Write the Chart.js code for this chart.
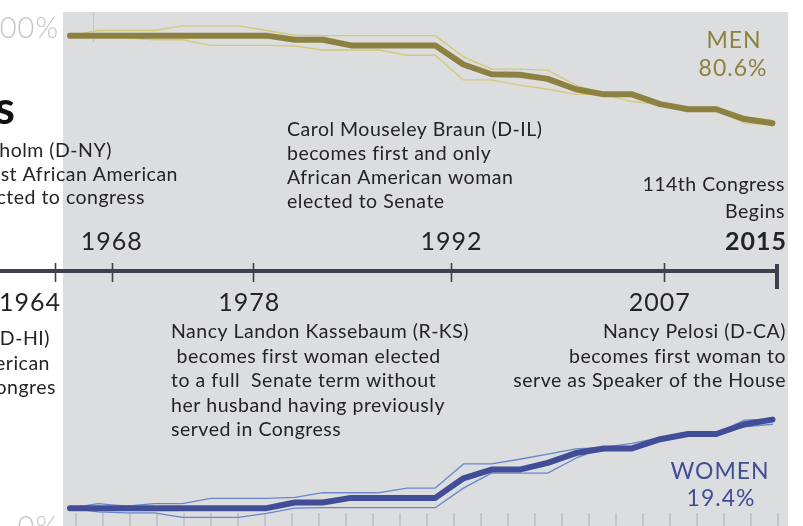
<!DOCTYPE html>
<html>
<head>
<meta charset="utf-8">
<script src="https://cdn.jsdelivr.net/npm/chart.js@4"></script>
<style>
  html, body { margin: 0; padding: 0; background: #fff; }
  #wrap { width: 803px; height: 526px; }
</style>
</head>
<body>
<div id="wrap"><canvas id="myChart"></canvas></div>
<script>
// one point per Congress (89th .. 114th)
const congressYears = [1965, 1967, 1969, 1971, 1973, 1975, 1977, 1979, 1981, 1983, 1985, 1987, 1989,
                       1991, 1993, 1995, 1997, 1999, 2001, 2003, 2005, 2007, 2009, 2011, 2013, 2015]

const menAll    = [97.6, 97.6, 97.6, 97.6, 97.6, 97.6, 97.6, 97.6, 96.8, 96.8, 95.7, 95.7, 95.7,
                   95.7, 92.0, 90.1, 90.0, 89.2, 87.2, 86.2, 86.2, 84.3, 83.3, 83.3, 81.4, 80.6]
const menSenate = [97.6, 98.6, 98.6, 98.6, 99.5, 99.5, 99.5, 98.6, 97.7, 97.6, 97.6, 97.6, 97.6,
                   97.6, 93.5, 91.1, 91.1, 90.9, 88.0, 86.4, 86.0, 84.2, 83.2, 83.2, 81.8, 81.2]
const menHouse  = [97.6, 97.4, 97.2, 96.8, 96.8, 95.7, 95.7, 95.7, 95.6, 94.8, 94.8, 94.8, 93.8,
                   93.8, 89.0, 89.0, 88.0, 87.2, 86.2, 86.2, 84.8, 84.2, 83.3, 83.3, 80.6, 80.4]

const womenAll    = [2.2, 2.2, 2.2, 2.2, 2.2, 2.2, 2.2, 2.2, 3.3, 3.3, 4.2, 4.2, 4.2,
                     4.2, 8.0, 9.7, 9.7, 11.0, 12.9, 13.8, 13.8, 15.6, 16.6, 16.6, 18.5, 19.4]
const womenHouse  = [2.2, 3.1, 2.6, 3.1, 3.1, 4.1, 4.1, 4.1, 4.3, 5.2, 5.2, 5.2, 6.1,
                     6.1, 10.8, 10.8, 11.7, 12.7, 13.7, 14.0, 14.8, 15.9, 16.7, 16.7, 19.3, 19.5]
const womenSenate = [2.2, 1.5, 1.3, 1.3, 0.4, 0.4, 0.4, 1.2, 2.2, 2.3, 2.3, 2.3, 2.3,
                     2.3, 6.1, 9.0, 9.0, 9.0, 11.9, 14.0, 13.6, 15.9, 16.7, 16.7, 18.0, 18.5]

// timeline
const tickYears = [1964, 1968, 1978, 1992, 2007]
const endYear = 2015
const yearsAbove = [1968, 1992]
const yearsBelow = [1964, 1978, 2007]

const OLIVE = 'rgb(141,129,65)'
const OLIVE_LIGHT = 'rgb(212,201,120)'
const BLUE = 'rgb(66,77,152)'
const BLUE_LIGHT = 'rgb(104,134,204)'
const INK = '#252328'
const LINE = '#3f404f'

function pts(vals) {
    return vals.map((v, i) => ({ x: congressYears[i], y: v }))
}

function series(label, vals, axis, color, width, order) {
    return {
        label: label,
        data: pts(vals),
        yAxisID: axis,
        borderColor: color,
        borderWidth: width,
        pointRadius: 0,
        tension: 0,
        fill: false,
        borderCapStyle: 'round',
        borderJoinStyle: 'round',
        order: order
    }
}

const decor = {
    id: 'decor',
    beforeDatasetsDraw(chart) {
        const c = chart.ctx
        c.save()
        c.fillStyle = '#dcdddf'
        c.fillRect(63, 12, 725, 514)
        // faint guide line
        c.strokeStyle = '#c4c4c6'
        c.lineWidth = 1
        c.beginPath(); c.moveTo(93.5, 12); c.lineTo(93.5, 42); c.stroke()
        // bottom ticks
        const xb = chart.scales.xB
        c.strokeStyle = '#c5c6c9'
        c.lineWidth = 2
        for (let i = 0; i <= 26; i++) {
            const px = Math.round(xb.getPixelForValue(i))
            c.beginPath(); c.moveTo(px, 513); c.lineTo(px, 526); c.stroke()
        }
        // axis end labels
        c.fillStyle = '#c3c3c3'
        c.font = '300 29px Lato'
        c.letterSpacing = '1px'
        c.textAlign = 'right'
        c.textBaseline = 'alphabetic'
        c.fillText('100%', 59, 38)
        c.fillText('0%', 59, 537)
        // title fragment
        c.letterSpacing = '0px'
        c.fillStyle = '#111'
        c.font = 'bold 46px Lato'
        c.fillText('Women in Congress', 15, 124)
        c.restore()
    },
    afterDatasetsDraw(chart) {
        const c = chart.ctx
        const xt = chart.scales.xT
        const ty = 271
        c.save()
        // timeline
        c.strokeStyle = LINE
        c.lineWidth = 4
        c.beginPath(); c.moveTo(0, ty); c.lineTo(xt.getPixelForValue(endYear), ty); c.stroke()
        c.beginPath(); c.moveTo(xt.getPixelForValue(endYear), 264); c.lineTo(xt.getPixelForValue(endYear), 289); c.stroke()
        c.lineWidth = 1.6
        tickYears.forEach(y => {
            const px = Math.round(xt.getPixelForValue(y)) + 0.5
            c.beginPath(); c.moveTo(px, 263); c.lineTo(px, 282); c.stroke()
        })
        // year labels
        c.fillStyle = INK
        c.font = '25px Lato'
        c.letterSpacing = '1px'
        c.textAlign = 'center'
        yearsAbove.forEach(y => c.fillText(String(y), xt.getPixelForValue(y), 250))
        yearsBelow.forEach(y => {
            if (y === 1964) {
                c.textAlign = 'right'
                c.fillText(String(y), 61, 311)
                c.textAlign = 'center'
            } else {
                c.fillText(String(y), xt.getPixelForValue(y) - 4, 311)
            }
        })
        c.font = 'bold 25px Lato'
        c.textAlign = 'right'
        c.fillText(String(endYear), 787, 250)

        // annotations
        c.font = '19.5px Lato'
        c.letterSpacing = '0.5px'
        c.textAlign = 'left'
        const braun = ['Carol Mouseley Braun (D-IL)', 'becomes first and only', 'African American woman', 'elected to Senate']
        braun.forEach((t, i) => c.fillText(t, 287, 136 + i * 24))
        const kass = ['Nancy Landon Kassebaum (R-KS)', ' becomes first woman elected', 'to a full  Senate term without', 'her husband having previously', 'served in Congress']
        kass.forEach((t, i) => c.fillText(t, 171, 338 + i * 24.6))

        c.textAlign = 'right'
        const chis = [['Shirley Chisholm (D-NY)', 112], ['becomes first African American', 178], ['woman elected to congress', 145]]
        chis.forEach((t, i) => c.fillText(t[0], t[1], 157 + i * 23.5))
        const mink = [['Patsy Mink (D-HI)', 50], ['becomes first Asian American', 50], ['woman elected to Congres', 56]]
        mink.forEach((t, i) => c.fillText(t[0], t[1], 345 + i * 24.5))
        const pelosi = ['Nancy Pelosi (D-CA)', 'becomes first woman to', 'serve as Speaker of the House']
        pelosi.forEach((t, i) => c.fillText(t, 786, 338 + i * 24.5))
        c.fillText('114th Congress', 785, 191)
        c.fillText('Begins', 785, 218)

        // series labels
        c.textAlign = 'center'
        c.font = '23px Lato'
        c.letterSpacing = '1px'
        c.fillStyle = OLIVE
        c.fillText('MEN', 734, 48)
        c.fillText(menAll[menAll.length - 1].toFixed(1) + '%', 733, 76)
        c.fillStyle = BLUE
        c.fillText('WOMEN', 720, 479)
        c.fillText(womenAll[womenAll.length - 1].toFixed(1) + '%', 721, 506)
        c.restore()
    }
}

const ctx = document.getElementById('myChart')
const myChart = new Chart(ctx, {
    type: 'line',
    data: {
        datasets: [
            series('Men', menAll, 'yM', OLIVE, 6, 0),
            series('Men (Senate)', menSenate, 'yM', OLIVE_LIGHT, 1.4, 1),
            series('Men (House)', menHouse, 'yM', OLIVE_LIGHT, 1.4, 1),
            series('Women', womenAll, 'yW', BLUE, 6, 0),
            series('Women (House)', womenHouse, 'yW', BLUE_LIGHT, 1.3, 1),
            series('Women (Senate)', womenSenate, 'yW', BLUE_LIGHT, 1.3, 1)
        ]
    },
    options: {
        responsive: true,
        maintainAspectRatio: false,
        animation: false,
        layout: { padding: 0 },
        scales: {
            x: { type: 'linear', display: false, min: 1960.018, max: 2017.171 },
            xT: { type: 'linear', display: false, min: 1960.115, max: 2016.837 },
            xB: { type: 'linear', display: false, min: -2.815, max: 26.926 },
            yM: { type: 'linear', display: false, min: 2.38, max: 104.52 },
            yW: { type: 'linear', display: false, min: -1.26, max: 100.88 }
        },
        plugins: {
            legend: { display: false },
            title: { display: false },
            tooltip: { enabled: false }
        }
    },
    plugins: [decor]
})
</script>
</body>
</html>
